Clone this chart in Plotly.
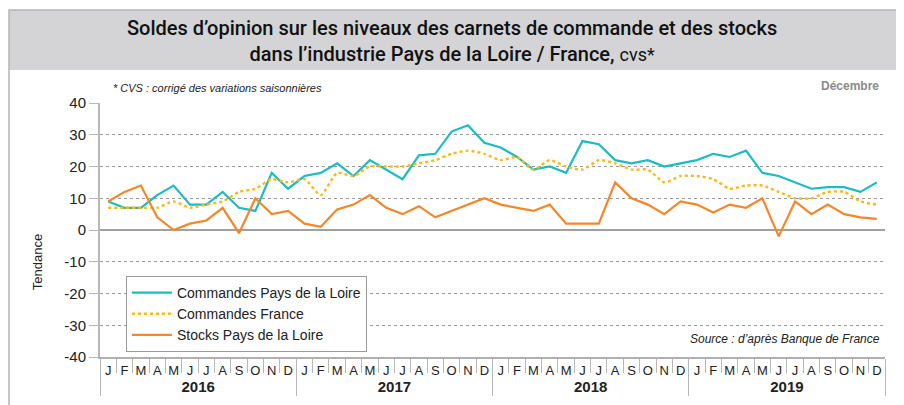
import plotly.graph_objects as go

years = ["2016", "2017", "2018", "2019"]
month_letters = ["J", "F", "M", "A", "M", "J", "J", "A", "S", "O", "N", "D"]
y_tick_values = [40, 30, 20, 10, 0, -10, -20, -30, -40]
y_tick_labels = ["40", "30", "20", "10", "0", "-10", "-20", "-30", "-40"]

commandes_pdl = [9, 7, 7, 11, 14, 8, 8, 12, 7, 6, 18, 13,
                 17, 18, 21, 17, 22, 19, 16, 23.5, 24, 31, 33, 27.5,
                 26, 23, 19, 20, 18, 28, 27, 22, 21, 22, 20, 21,
                 22, 24, 23, 25, 18, 17, 15, 13, 13.5, 13.5, 12, 15]
commandes_france = [7, 7, 7, 7, 9, 7, 8, 9, 12, 13, 16, 15,
                    16, 11, 18, 17, 20, 20, 20, 21, 22, 24, 25, 24,
                    22, 23, 19, 22, 20, 19, 22, 21, 19, 19, 15, 17,
                    17, 16, 13, 14, 14, 12, 10, 10, 12, 12, 9, 8]
stocks_pdl = [9, 12, 14, 4, 0, 2, 3, 7, -1, 10, 5, 6,
              2, 1, 6.5, 8, 11, 7, 5, 7.5, 4, 6, 8, 10,
              8, 7, 6, 8, 2, 2, 2, 15, 10, 8, 5, 9,
              8, 5.5, 8, 7, 10, -2, 9, 5, 8, 5, 4, 3.5]

# unique month category names (zero-width spaces keep duplicates distinct)
seen = {}
month_cats = []
for m in month_letters:
    n = seen.get(m, 0)
    seen[m] = n + 1
    month_cats.append(m + "\u200b" * n)

x_year = []
x_month = []
for y in years:
    for m in month_cats:
        x_year.append("<span style='font-size:15px'><b>" + y + "</b></span>")
        x_month.append(m)
x = [x_year, x_month]

TEAL = "#1bbcc2"
YELLOW = "#fcb813"
ORANGE = "#f5862a"
FONT = "Liberation Sans, Arial, sans-serif"

fig = go.Figure()
fig.add_trace(go.Scatter(x=x, y=commandes_pdl, mode="lines", name="Commandes Pays de la Loire",
                         line=dict(color=TEAL, width=2.2)))
fig.add_trace(go.Scatter(x=x, y=commandes_france, mode="lines", name="Commandes France",
                         line=dict(color=YELLOW, width=2.4, dash="dot", shape="spline", smoothing=0.6)))
fig.add_trace(go.Scatter(x=x, y=stocks_pdl, mode="lines", name="Stocks Pays de la Loire",
                         line=dict(color=ORANGE, width=2.2)))

fig.update_layout(
    width=904, height=405,
    margin=dict(l=92, r=27, t=95, b=56, autoexpand=False),
    paper_bgcolor="white", plot_bgcolor="white",
    font=dict(family=FONT, color="#222", size=13),
    showlegend=True,
    legend=dict(x=0.033, y=0.319, xanchor="left", yanchor="top",
                bordercolor="#9a9a9a", borderwidth=1, bgcolor="white",
                font=dict(size=14, color="#222"), tracegroupgap=0,
                itemwidth=40),
)

fig.update_xaxes(
    type="multicategory", range=[-0.5, 47.5], automargin=False,
    showline=True, linecolor="#b0b0b0", linewidth=2,
    ticks="outside", tickson="boundaries", ticklen=14, tickcolor="#b8b8b8", tickwidth=1,
    tickangle=0,
    showgrid=False, tickfont=dict(size=13, color="#222"),
    showdividers=True, dividercolor="#b8b8b8", dividerwidth=1,
)
fig.update_yaxes(
    range=[-40, 40], tickvals=y_tick_values, ticktext=y_tick_labels, automargin=False,
    showgrid=True, gridcolor="#9a9a9a", gridwidth=1, griddash="dot",
    zeroline=True, zerolinecolor="#a0a0a0", zerolinewidth=1.5,
    showline=True, linecolor="#b8b8b8", linewidth=2,
    ticks="outside", ticklen=9, tickcolor="#b8b8b8",
    tickfont=dict(size=15, color="#222"),
)

# title band and frame
fig.add_shape(type="rect", xref="paper", yref="paper",
              x0=-0.1159, x1=1.0178, y0=1.130, y1=1.366,
              fillcolor="#d4d4d6", line=dict(width=0), layer="below")
fig.add_shape(type="rect", xref="paper", yref="paper",
              x0=-0.1159, x1=1.0178, y0=-0.40, y1=1.366,
              fillcolor="rgba(0,0,0,0)", line=dict(color="#b5b5b5", width=1.5), layer="above")

fig.add_annotation(
    text="Soldes d’opinion sur les niveaux des carnets de commande et des stocks<br>"
         "dans l’industrie Pays de la Loire / France, <span style='font-weight:400;font-size:18px'>cvs*</span>",
    xref="paper", yref="paper", x=0.448, y=1.244, xanchor="center", yanchor="middle",
    showarrow=False, font=dict(family="Roboto, Liberation Sans, sans-serif", size=20,
                               color="#111", weight=500), align="center")
fig.add_annotation(
    text="<i>* CVS : corrigé des variations saisonnières</i>",
    xref="paper", yref="paper", x=0.014, y=1.059, xanchor="left", yanchor="middle",
    showarrow=False, font=dict(size=11, color="#222"))
fig.add_annotation(
    text="<b>Décembre</b>",
    xref="paper", yref="paper", x=0.995, y=1.067, xanchor="right", yanchor="middle",
    showarrow=False, font=dict(size=12, color="#8a8a8a"))
fig.add_annotation(
    text="<i>Source : d’après Banque de France</i>",
    xref="paper", yref="paper", x=0.996, y=0.071, xanchor="right", yanchor="middle",
    showarrow=False, font=dict(size=12, color="#222"))
fig.add_annotation(
    text="Tendance",
    xref="paper", yref="paper", x=-0.080, y=0.374, xanchor="center", yanchor="middle",
    textangle=-90, showarrow=False, font=dict(size=13, color="#222"))

fig.write_html("out.html")
